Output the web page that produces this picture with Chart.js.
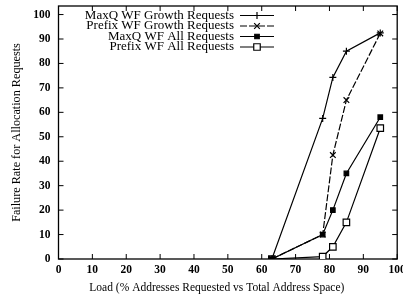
<!DOCTYPE html>
<html><head><meta charset="utf-8">
<script src="https://cdn.jsdelivr.net/npm/chart.js@4/dist/chart.umd.min.js"></script>
<style>html,body{margin:0;padding:0;background:#fff;overflow:hidden}#wrap{width:403px;height:298px;position:relative}</style>
</head><body><div id="wrap"><canvas id="c" width="403" height="298"></canvas></div>
<script>
// ---- data ----
const loads = [63, 78, 81, 85, 95];
const maxqGrowth = [0, 57.5, 74.3, 85, 92.5];
const prefixGrowth = [0, 10, 42.5, 65, 92.3];
const maxqAll = [0, 10, 20, 35, 58];
const prefixAll = [0, 1, 5, 15, 53.5];
const seriesNames = ['MaxQ WF Growth Requests', 'Prefix WF Growth Requests', 'MaxQ WF All Requests', 'Prefix WF All Requests'];
const xTickVals = [0, 10, 20, 30, 40, 50, 60, 70, 80, 90, 100];
const yTickVals = [0, 10, 20, 30, 40, 50, 60, 70, 80, 90, 100];
const xTitle = 'Load (% Addresses Requested vs Total Address Space)';
const yTitle = 'Failure Rate for Allocation Requests';

const FONT = '"Liberation Serif", "Times New Roman", serif';
const pts = ys => loads.map((x, i) => ({x: x, y: ys[i]}));

const styles = [
  {pointStyle: 'cross', pointRadius: 3.5, pointBackgroundColor: '#000', borderDash: []},
  {pointStyle: 'crossRot', pointRadius: 4, pointBackgroundColor: '#000', borderDash: [7, 2]},
  {pointStyle: 'rect', pointRadius: 3.2, pointBackgroundColor: '#000', borderDash: []},
  {pointStyle: 'rect', pointRadius: 4.6, pointBackgroundColor: '#fff', borderDash: []}
];
const seriesData = [maxqGrowth, prefixGrowth, maxqAll, prefixAll];

const datasets = seriesData.map((ys, i) => Object.assign({
  label: seriesNames[i],
  data: pts(ys),
  borderColor: '#000',
  borderWidth: 1.2,
  pointBorderColor: '#000',
  pointBorderWidth: 1.2,
  showLine: true,
  fill: false,
  tension: 0
}, styles[i]));

const framePlugin = {
  id: 'frame',
  beforeDatasetsDraw(chart) {
    const {ctx, chartArea: a, scales} = chart;
    ctx.save();
    ctx.strokeStyle = '#000';
    ctx.lineWidth = 1.3;
    ctx.strokeRect(a.left, a.top, a.right - a.left, a.bottom - a.top);
    ctx.lineWidth = 1;
    const tl = 5;
    ctx.beginPath();
    xTickVals.forEach(v => {
      const px = scales.x.getPixelForValue(v);
      ctx.moveTo(px, a.bottom); ctx.lineTo(px, a.bottom - tl);
      ctx.moveTo(px, a.top); ctx.lineTo(px, a.top + tl);
    });
    yTickVals.forEach(v => {
      const py = scales.y.getPixelForValue(v);
      ctx.moveTo(a.left, py); ctx.lineTo(a.left + tl, py);
      ctx.moveTo(a.right, py); ctx.lineTo(a.right - tl, py);
    });
    ctx.stroke();
    ctx.restore();
  },
  afterDraw(chart) {
    const {ctx, chartArea: a} = chart;
    ctx.save();
    // x axis title
    ctx.fillStyle = '#000';
    ctx.font = '11.5px ' + FONT;
    ctx.textAlign = 'center';
    ctx.textBaseline = 'middle';
    ctx.fillText(xTitle, (a.left + a.right) / 2 - 11, 288);
    // legend
    ctx.font = '13px ' + FONT;
    ctx.textAlign = 'right';
    chart.data.datasets.forEach((ds, i) => {
      const y = 15.5 + i * 10.5;
      ctx.fillStyle = '#000';
      ctx.fillText(ds.label, 234, y);
      ctx.strokeStyle = '#000';
      ctx.lineWidth = 1.2;
      ctx.setLineDash(ds.borderDash || []);
      ctx.beginPath(); ctx.moveTo(240, y); ctx.lineTo(274, y); ctx.stroke();
      ctx.setLineDash([]);
      ctx.fillStyle = ds.pointBackgroundColor;
      Chart.helpers.drawPoint(ctx, {pointStyle: ds.pointStyle, radius: ds.pointRadius, rotation: 0, borderWidth: 1.2}, 257, y);
    });
    ctx.restore();
  }
};

new Chart(document.getElementById('c'), {
  type: 'line',
  data: {datasets: datasets},
  options: {
    responsive: false,
    animation: false,
    devicePixelRatio: 1,
    layout: {padding: {top: 6, right: 4, left: 0, bottom: 0}},
    plugins: {legend: {display: false}, tooltip: {enabled: false}},
    scales: {
      x: {
        type: 'linear', min: 0, max: 100,
        afterBuildTicks: s => { s.ticks = xTickVals.map(v => ({value: v})); },
        afterFit: s => { s.height = 39; s.paddingLeft = 0; s.paddingRight = 0; },
        grid: {display: false, drawTicks: false},
        border: {display: false},
        ticks: {color: '#000', padding: 4, maxRotation: 0, autoSkip: false, font: {family: FONT, size: 11.5, weight: 'bold'}}
      },
      y: {
        type: 'linear', min: 0, max: 103.5,
        afterBuildTicks: s => { s.ticks = yTickVals.map(v => ({value: v})); },
        afterFit: s => { s.width = 58.5; s.paddingTop = 0; s.paddingBottom = 0; },
        grid: {display: false, drawTicks: false},
        border: {display: false},
        ticks: {color: '#000', padding: 8, autoSkip: false, font: {family: FONT, size: 11.5, weight: 'bold'}},
        title: {display: true, text: yTitle, color: '#000', padding: {top: 9, bottom: 0}, font: {family: FONT, size: 12.2}}
      }
    }
  },
  plugins: [framePlugin]
});
</script></body></html>
